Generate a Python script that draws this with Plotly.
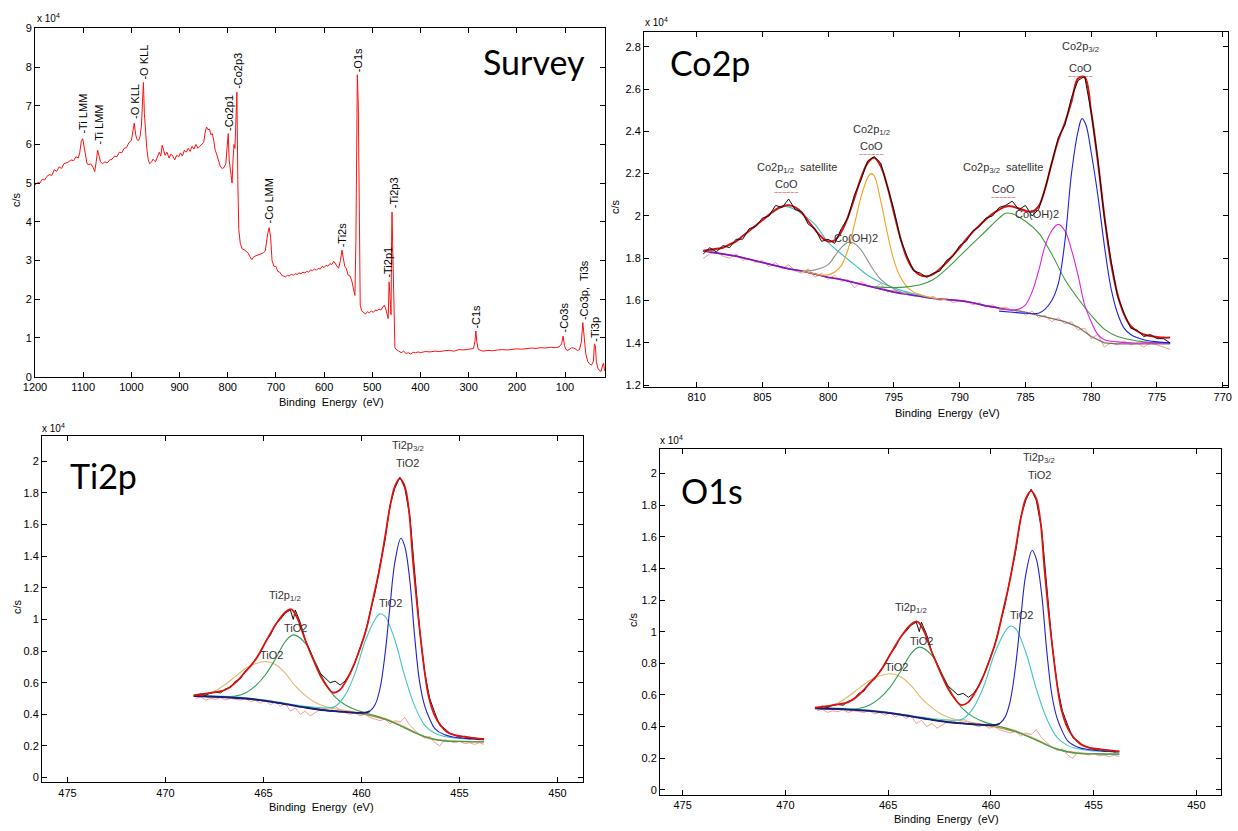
import plotly.graph_objects as go

W, H = 1238, 831

# ---------------- Survey data (counts in units of 1e4 c/s) ----------------
surv_be = [1200, 1195, 1190, 1185, 1180, 1175, 1170, 1165, 1160, 1155, 1150, 1145, 1140, 1135, 1130,
           1125, 1120, 1115, 1110, 1107, 1104, 1101, 1098, 1095, 1092, 1088, 1084, 1080, 1076, 1073,
           1070, 1067, 1064, 1060, 1055, 1050, 1045, 1040, 1035, 1030, 1025, 1020, 1015, 1010, 1005,
           1000, 997, 994, 991, 988, 985, 982, 979, 977, 975, 973, 971, 968, 965, 962, 958, 955, 950,
           946, 942, 939, 936, 933, 930, 926, 922, 918, 914, 910, 906, 902, 898, 894, 890, 886, 882,
           878, 874, 870, 866, 862, 858, 854, 850, 847, 844, 841, 838, 835, 832, 829, 826, 823, 820,
           816, 812, 808, 804, 801, 799, 797, 794, 791, 789, 787, 785, 783, 781, 779, 777, 774, 770,
           766, 762, 758, 754, 750, 746, 742, 738, 734, 730, 726, 722, 720, 717, 714, 711, 708, 704,
           700, 696, 692, 688, 684, 680, 676, 672, 668, 664, 660, 656, 652, 648, 644, 640, 636, 632,
           628, 624, 620, 616, 612, 608, 604, 600, 596, 592, 588, 584, 580, 577, 574, 570, 566, 563,
           560, 557, 554, 550, 546, 542, 538, 536, 534, 532, 531, 529, 527, 525, 522, 518, 514, 510,
           506, 502, 498, 494, 490, 486, 482, 478, 475, 472, 469, 467, 465, 463, 461, 460, 459, 457,
           455, 453, 450, 445, 440, 435, 430, 425, 420, 415, 410, 405, 400, 390, 380, 370, 360, 350,
           340, 330, 320, 310, 300, 295, 290, 287, 285, 283, 280, 275, 270, 260, 250, 240, 230, 220,
           210, 200, 190, 180, 170, 160, 150, 140, 130, 120, 112, 107, 104, 101, 98, 94, 90, 86, 82,
           78, 74, 70, 66, 63, 60, 57, 53, 49, 45, 41, 39, 37, 35, 32, 28, 25, 22, 20, 18]
surv_cps = [4.95, 5.02, 5.00, 5.10, 5.08, 5.18, 5.22, 5.20, 5.35, 5.30, 5.42, 5.38, 5.50, 5.52, 5.55,
            5.60, 5.58, 5.68, 5.65, 5.80, 6.08, 6.15, 5.95, 5.70, 5.50, 5.48, 5.50, 5.42, 5.30, 5.55,
            5.85, 5.70, 5.55, 5.50, 5.55, 5.52, 5.60, 5.62, 5.70, 5.68, 5.80, 5.78, 5.90, 5.92, 6.05,
            6.10, 6.30, 6.55, 6.25, 6.12, 6.10, 6.20, 6.50, 7.20, 7.60, 6.80, 6.30, 5.90, 5.60, 5.50,
            5.55, 5.62, 5.55, 5.70, 5.80, 5.70, 5.98, 5.85, 5.72, 5.80, 5.65, 5.75, 5.70, 5.60, 5.72,
            5.68, 5.78, 5.70, 5.85, 5.80, 5.90, 5.82, 5.95, 5.88, 6.00, 5.90, 5.95, 6.00, 6.05, 6.30,
            6.45, 6.38, 6.40, 6.25, 6.28, 6.10, 5.85, 5.75, 5.60, 5.45, 5.38, 5.40, 5.50, 5.90, 6.28,
            5.60, 5.20, 5.00, 5.60, 6.00, 5.90, 6.50, 7.35, 5.00, 3.80, 3.45, 3.30, 3.28, 3.25, 3.20,
            3.10, 3.02, 3.10, 3.12, 3.15, 3.18, 3.20, 3.20, 3.25, 3.50, 3.70, 3.85, 3.60, 3.00, 2.85,
            2.85, 2.72, 2.70, 2.62, 2.60, 2.58, 2.62, 2.60, 2.65, 2.62, 2.66, 2.64, 2.68, 2.66, 2.70,
            2.68, 2.72, 2.70, 2.76, 2.74, 2.78, 2.75, 2.80, 2.78, 2.85, 2.82, 2.88, 2.85, 2.92, 2.90,
            2.98, 2.92, 2.85, 2.80, 3.00, 3.27, 3.05, 2.85, 2.80, 2.62, 2.60, 2.45, 2.20, 2.10, 3.50,
            6.50, 7.80, 7.00, 3.50, 1.85, 1.70, 1.65, 1.62, 1.68, 1.65, 1.70, 1.66, 1.72, 1.70, 1.75,
            1.72, 1.80, 1.85, 1.75, 1.60, 1.50, 2.45, 1.90, 1.60, 3.50, 4.25, 3.00, 1.20, 0.75, 0.70,
            0.65, 0.62, 0.66, 0.60, 0.62, 0.58, 0.63, 0.62, 0.64, 0.62, 0.65, 0.64, 0.66, 0.65, 0.67,
            0.68, 0.66, 0.70, 0.69, 0.71, 0.72, 0.73, 0.90, 1.18, 0.90, 0.70, 0.68, 0.66, 0.68, 0.67,
            0.69, 0.70, 0.69, 0.71, 0.72, 0.71, 0.73, 0.74, 0.73, 0.75, 0.74, 0.76, 0.75, 0.77, 0.85,
            1.05, 0.80, 0.70, 0.68, 0.72, 0.75, 0.74, 0.72, 0.68, 0.70, 0.90, 1.40, 1.00, 0.60, 0.40,
            0.33, 0.30, 0.40, 0.85, 0.80, 0.40, 0.22, 0.15, 0.14, 0.30, 0.35, 0.15]

surv_lbl_text = ["-Ti LMM", "-Ti LMM", "-O KLL", "-O KLL", "-Co2p1", "-Co2p3", "-Co LMM", "-Ti2s",
                 "-O1s", "-Ti2p1", "-Ti2p3", "-C1s", "-Co3s", "-Co3p,  Ti3s", "-Ti3p"]
surv_lbl_be = [1101, 1067, 994, 973, 797, 779, 714, 561, 529, 467, 456, 284, 103, 62, 37]
surv_lbl_y = [6.22, 5.95, 6.6, 7.62, 6.3, 7.38, 3.9, 3.3, 7.82, 2.5, 4.3, 1.2, 1.08, 1.42, 0.85]

# ---------------- Co2p data ----------------
co_grid = [809.5, 809, 808.5, 808, 807.5, 807, 806.5, 806, 805.5, 805, 804.5, 804, 803.5, 803,
           802.5, 802, 801.5, 801, 800.5, 800, 799.5, 799, 798.5, 798, 797.5, 797, 796.5, 796,
           795.5, 795, 794.5, 794, 793.5, 793, 792.5, 792, 791.5, 791, 790.5, 790, 789.5, 789,
           788.5, 788, 787.5, 787, 786.5, 786, 785.5, 785, 784.5, 784, 783.5, 783, 782.5, 782,
           781.5, 781, 780.5, 780, 779.5, 779, 778.5, 778, 777.5, 777, 776.5, 776, 775.5, 775,
           774.5, 774]
co_raw = [1.82, 1.85, 1.83, 1.86, 1.85, 1.89, 1.89, 1.94, 1.95, 1.99, 2.00, 2.05, 2.04, 2.08,
          2.03, 2.02, 1.96, 1.94, 1.88, 1.89, 1.87, 1.94, 1.99, 2.10, 2.17, 2.26, 2.28, 2.25,
          2.14, 2.03, 1.89, 1.81, 1.74, 1.73, 1.71, 1.73, 1.74, 1.79, 1.81, 1.86, 1.88, 1.93,
          1.95, 1.99, 2.00, 2.04, 2.05, 2.07, 2.03, 2.05, 2.00, 2.03, 2.13, 2.25, 2.37, 2.43,
          2.56, 2.64, 2.66, 2.49, 2.27, 1.99, 1.79, 1.62, 1.54, 1.47, 1.46, 1.43, 1.44, 1.42,
          1.42, 1.40]
co_env = [1.835, 1.84, 1.845, 1.85, 1.865, 1.88, 1.905, 1.93, 1.955, 1.98, 2.005, 2.03, 2.045, 2.05,
          2.04, 2.015, 1.975, 1.935, 1.90, 1.88, 1.885, 1.925, 1.995, 2.085, 2.18, 2.25, 2.275, 2.235,
          2.14, 2.015, 1.895, 1.80, 1.745, 1.72, 1.715, 1.725, 1.75, 1.78, 1.815, 1.85, 1.89, 1.925,
          1.955, 1.985, 2.01, 2.03, 2.045, 2.045, 2.035, 2.025, 2.02, 2.045, 2.13, 2.25, 2.36, 2.44,
          2.54, 2.65, 2.655, 2.49, 2.26, 2.00, 1.78, 1.63, 1.535, 1.48, 1.455, 1.44, 1.433, 1.428,
          1.425, 1.425]
co_resid = [1.80, 1.82, 1.83, 1.81, 1.80, 1.82, 1.79, 1.80, 1.78, 1.79, 1.76, 1.78, 1.75, 1.77,
            1.74, 1.73, 1.75, 1.71, 1.73, 1.70, 1.72, 1.69, 1.70, 1.66, 1.69, 1.67, 1.66, 1.68,
            1.64, 1.65, 1.63, 1.64, 1.62, 1.63, 1.61, 1.62, 1.60, 1.61, 1.59, 1.60, 1.60, 1.58,
            1.59, 1.57, 1.58, 1.56, 1.57, 1.55, 1.56, 1.53, 1.55, 1.52, 1.53, 1.50, 1.52, 1.49,
            1.50, 1.46, 1.47, 1.42, 1.44, 1.38, 1.40, 1.39, 1.41, 1.39, 1.40, 1.38, 1.40, 1.39,
            1.38, 1.37]
co_bg_be = [809.5, 809, 808, 807, 806, 805, 804, 803, 802, 801, 800, 799, 798, 797, 796, 795, 794,
            793, 792, 791, 790, 789, 788, 787, 786, 785, 784, 783, 782, 781, 780, 779, 778, 777,
            776, 775, 774]
co_bg = [1.835, 1.83, 1.82, 1.81, 1.795, 1.78, 1.765, 1.75, 1.74, 1.725, 1.71, 1.70, 1.685, 1.67,
         1.655, 1.64, 1.63, 1.62, 1.61, 1.605, 1.60, 1.59, 1.575, 1.565, 1.555, 1.545, 1.53, 1.515,
         1.50, 1.475, 1.43, 1.40, 1.395, 1.395, 1.395, 1.395, 1.395]
co_sat12_be = [809.5, 809, 808, 807, 806, 805, 804, 803.3, 802.5, 802, 801, 800, 799, 798, 797, 796,
               795, 794, 793, 792]
co_sat12 = [1.835, 1.835, 1.85, 1.88, 1.93, 1.98, 2.025, 2.045, 2.03, 2.01, 1.96, 1.875, 1.82, 1.77,
            1.72, 1.685, 1.66, 1.64, 1.625, 1.612]
co_oh12_be = [802, 801, 800, 799.5, 799, 798.5, 798, 797.5, 797, 796.5, 796, 795, 794]
co_oh12 = [1.74, 1.745, 1.77, 1.81, 1.85, 1.875, 1.87, 1.84, 1.79, 1.74, 1.70, 1.655, 1.63]
co_p12_be = [802, 801, 800.5, 800, 799.5, 799, 798.5, 798, 797.5, 797, 796.75, 796.5, 796, 795.5, 795,
             794.5, 794, 793.5, 793, 792, 791]
co_p12 = [1.74, 1.727, 1.72, 1.722, 1.735, 1.765, 1.84, 1.96, 2.09, 2.18, 2.20, 2.19, 2.07, 1.92,
          1.79, 1.71, 1.665, 1.64, 1.628, 1.612, 1.605]
co_sat32_be = [796.5, 795, 794, 793, 792, 791, 790, 789, 788, 787, 786.5, 786, 785, 784, 783, 782,
               781, 780, 779, 778, 777, 776, 775, 774]
co_sat32 = [1.665, 1.662, 1.665, 1.675, 1.70, 1.75, 1.81, 1.87, 1.93, 1.99, 2.013, 2.01, 1.975, 1.92,
            1.82, 1.70, 1.61, 1.53, 1.465, 1.43, 1.415, 1.405, 1.40, 1.40]
co_oh32_be = [787, 786, 785.5, 785, 784.5, 784, 783.5, 783, 782.5, 782, 781.5, 781, 780.5, 780, 779.5,
              779, 778, 777, 776, 775, 774]
co_oh32 = [1.56, 1.555, 1.56, 1.58, 1.64, 1.74, 1.86, 1.93, 1.96, 1.93, 1.84, 1.72, 1.58, 1.50, 1.44,
           1.415, 1.405, 1.40, 1.40, 1.40, 1.40]
co_p32_be = [787, 786, 785, 784, 783.5, 783, 782.5, 782, 781.5, 781, 780.7, 780.4, 780, 779.5, 779,
             778.5, 778, 777.5, 777, 776, 775, 774]
co_p32 = [1.55, 1.545, 1.54, 1.54, 1.56, 1.60, 1.68, 1.88, 2.20, 2.40, 2.46, 2.43, 2.30, 2.10, 1.86,
          1.66, 1.54, 1.47, 1.44, 1.415, 1.405, 1.40]

co_lbl_text = ["Co2p<sub>1/2</sub>  satellite", "CoO", "Co2p<sub>1/2</sub>", "CoO",
               "Co2p<sub>3/2</sub>  satellite", "CoO", "Co2p<sub>3/2</sub>", "CoO", "Co(OH)2", "Co(OH)2"]
co_lbl_be = [802.4, 803.2, 796.7, 796.7, 786.7, 786.7, 780.8, 780.8, 797.9, 784.1]
co_lbl_y = [2.227, 2.15, 2.404, 2.332, 2.227, 2.127, 2.80, 2.70, 1.897, 2.007]

# ---------------- Ti2p data (also shown in the O1s panel) ----------------
ti_raw_be = [468.46, 468.21, 467.95, 467.70, 467.44, 467.19, 466.94, 466.68, 466.43, 466.17, 465.92,
             465.66, 465.41, 465.16, 464.90, 464.65, 464.39, 464.14, 463.89, 463.63, 463.48, 463.38,
             463.12, 462.87, 462.62, 462.36, 462.11, 461.85, 461.60, 461.35, 461.09, 460.84, 460.58,
             460.33, 460.08, 459.82, 459.57, 459.31, 459.06, 458.80, 458.55, 458.30, 458.04, 457.79,
             457.53, 457.28, 457.03, 456.77, 456.52, 456.26, 456.01, 455.76, 455.50, 455.25, 454.99,
             454.74, 454.49, 454.23, 453.98, 453.75]
ti_raw = [0.515, 0.53, 0.52, 0.535, 0.54, 0.535, 0.56, 0.57, 0.61, 0.625, 0.675, 0.70, 0.75, 0.79,
          0.86, 0.90, 0.97, 1.00, 1.04, 1.06, 1.00, 1.06, 0.98, 0.87, 0.80, 0.72, 0.66, 0.63, 0.60,
          0.61, 0.585, 0.61, 0.66, 0.73, 0.82, 0.91, 1.04, 1.17, 1.34, 1.50, 1.72, 1.83, 1.90, 1.83,
          1.65, 1.28, 0.93, 0.66, 0.50, 0.41, 0.33, 0.31, 0.28, 0.27, 0.255, 0.26, 0.245, 0.25,
          0.24, 0.245]
ti_env_be = [468.56, 467.95, 467.44, 466.94, 466.43, 465.92, 465.41, 464.90, 464.39, 463.89, 463.58,
             463.28, 462.87, 462.46, 462.06, 461.75, 461.45, 461.14, 460.84, 460.43, 460.02, 459.72,
             459.41, 459.11, 458.80, 458.55, 458.30, 458.04, 457.79, 457.58, 457.38, 457.08, 456.77,
             456.57, 456.26, 455.96, 455.65, 455.25, 454.74, 454.23, 453.75]
ti_env = [0.52, 0.53, 0.54, 0.555, 0.60, 0.67, 0.745, 0.855, 0.965, 1.045, 1.064, 1.01, 0.87, 0.745,
          0.635, 0.575, 0.537, 0.55, 0.60, 0.70, 0.835, 0.955, 1.13, 1.30, 1.52, 1.71, 1.84, 1.89,
          1.84, 1.69, 1.38, 0.99, 0.66, 0.51, 0.39, 0.33, 0.29, 0.268, 0.258, 0.25, 0.243]
ti_resid = [0.50, 0.51, 0.49, 0.50, 0.495, 0.505, 0.49, 0.50, 0.495, 0.49, 0.50, 0.48, 0.49, 0.47,
            0.49, 0.46, 0.48, 0.45, 0.47, 0.42, 0.43, 0.44, 0.40, 0.42, 0.39, 0.41, 0.43, 0.44, 0.42,
            0.45, 0.43, 0.41, 0.40, 0.41, 0.39, 0.40, 0.38, 0.37, 0.36, 0.37, 0.34, 0.36, 0.35, 0.38,
            0.33, 0.30, 0.27, 0.25, 0.26, 0.22, 0.20, 0.24, 0.23, 0.22, 0.23, 0.215, 0.22, 0.21,
            0.22, 0.21]
ti_bg_be = [468.56, 467.95, 466.94, 465.92, 464.90, 463.89, 462.87, 461.85, 460.84, 459.82, 459.31,
            458.80, 458.30, 457.79, 457.28, 456.77, 456.26, 455.76, 454.74, 453.75]
ti_bg = [0.515, 0.512, 0.507, 0.50, 0.487, 0.466, 0.445, 0.428, 0.415, 0.40, 0.385, 0.368, 0.345,
         0.315, 0.285, 0.258, 0.24, 0.232, 0.228, 0.226]
ti_a_be = [468.56, 467.95, 467.44, 466.94, 466.43, 465.92, 465.41, 464.90, 464.39, 463.89, 463.38,
           462.87, 462.36, 461.85, 461.35, 460.84, 460.33, 459.82, 458.80, 457.79, 456.77, 455.76,
           454.74, 453.75]
ti_a = [0.52, 0.53, 0.55, 0.59, 0.64, 0.69, 0.72, 0.734, 0.715, 0.66, 0.58, 0.52, 0.475, 0.45, 0.435,
        0.425, 0.415, 0.405, 0.375, 0.32, 0.26, 0.235, 0.228, 0.226]
ti_b_be = [468.56, 466.94, 466.43, 465.92, 465.41, 464.90, 464.39, 463.89, 463.48, 462.87, 462.36,
           461.85, 461.35, 460.84, 460.33, 459.82, 458.80, 457.79, 456.77, 455.76, 454.74, 453.75]
ti_b = [0.515, 0.51, 0.515, 0.535, 0.58, 0.65, 0.75, 0.86, 0.902, 0.85, 0.73, 0.60, 0.51, 0.46, 0.43,
        0.41, 0.37, 0.315, 0.258, 0.232, 0.228, 0.226]
ti_c_be = [468.56, 465.92, 463.89, 462.87, 462.36, 461.85, 461.35, 460.84, 460.33, 459.82, 459.31,
           459.06, 458.80, 458.30, 457.79, 457.28, 456.77, 456.26, 455.76, 455.25, 454.74, 453.75]
ti_c = [0.52, 0.505, 0.47, 0.45, 0.445, 0.44, 0.45, 0.52, 0.66, 0.86, 1.00, 1.035, 1.02, 0.87, 0.64,
        0.45, 0.33, 0.28, 0.26, 0.25, 0.245, 0.24]
ti_d_be = [468.56, 466.94, 465.92, 464.90, 463.89, 462.87, 461.85, 460.84, 459.82, 459.57, 459.31,
           459.06, 458.80, 458.55, 458.30, 457.99, 457.79, 457.53, 457.28, 457.03, 456.77, 456.52,
           456.26, 455.76, 455.25, 454.74, 453.75]
ti_d = [0.515, 0.508, 0.50, 0.485, 0.465, 0.443, 0.425, 0.415, 0.41, 0.42, 0.46, 0.56, 0.78, 1.08,
        1.36, 1.513, 1.46, 1.24, 0.88, 0.60, 0.45, 0.37, 0.31, 0.27, 0.255, 0.248, 0.24]

ti_lbl_text = ["Ti2p<sub>3/2</sub>", "TiO2", "TiO2", "Ti2p<sub>1/2</sub>", "TiO2", "TiO2"]
ti_lbl_be = [457.64, 457.64, 458.50, 463.89, 463.38, 464.60]
ti_lbl_y = [2.097, 1.99, 1.106, 1.15, 0.944, 0.776]

panel_names = ["Survey", "Co2p", "Ti2p", "O1s"]

# ---------------- figure ----------------
fig = go.Figure()


def line(x, y, color, width, xa, ya, shape="linear", dash=None):
    fig.add_trace(go.Scatter(x=x, y=y, mode="lines", xaxis=xa, yaxis=ya, hoverinfo="skip",
                             showlegend=False,
                             line=dict(color=color, width=width, shape=shape, dash=dash)))


# survey
line(surv_be, surv_cps, "#ff1010", 1, "x", "y")

# Co2p
line(co_grid, co_resid, "#f29090", 0.9, "x2", "y2")
line(co_bg_be, co_bg, "#7d7060", 1.3, "x2", "y2")
line(co_bg_be[:24], co_bg[:24], "#8a10c8", 1.6, "x2", "y2")
line(co_sat12_be, co_sat12, "#3cc0c8", 1.1, "x2", "y2", "spline")
line(co_oh12_be, co_oh12, "#909090", 1.1, "x2", "y2", "spline")
line(co_p12_be, co_p12, "#f0a020", 1.1, "x2", "y2", "spline")
line(co_sat32_be, co_sat32, "#3c9a3c", 1.1, "x2", "y2", "spline")
line(co_oh32_be, co_oh32, "#e020e0", 1.1, "x2", "y2", "spline")
line(co_p32_be, co_p32, "#2020e0", 1.1, "x2", "y2", "spline")
line(co_grid, co_env, "#e01010", 2.0, "x2", "y2", "spline")
line(co_grid, co_raw, "#111111", 1.0, "x2", "y2")

# Ti2p and O1s panels (same spectrum)
for xa, ya in (("x3", "y3"), ("x4", "y4")):
    line(ti_raw_be, ti_resid, "#f29090", 0.9, xa, ya)
    line(ti_bg_be, ti_bg, "#a08a30", 1.4, xa, ya, "spline")
    line(ti_a_be, ti_a, "#e8b468", 1.1, xa, ya, "spline")
    line(ti_b_be, ti_b, "#30a050", 1.1, xa, ya, "spline")
    line(ti_c_be, ti_c, "#40c8c0", 1.1, xa, ya, "spline")
    line(ti_d_be, ti_d, "#2020d0", 1.1, xa, ya, "spline")
    line(ti_d_be[:10], ti_d[:10], "#1c1c78", 1.8, xa, ya, "spline")
    line(ti_raw_be, ti_raw, "#111111", 1.0, xa, ya)
    line(ti_env_be, ti_env, "#e01010", 1.8, xa, ya, "spline")

TICKFONT = dict(family="Liberation Sans, Arial", size=11, color="black")


def axis(domain, rng, anchor, **kw):
    d = dict(domain=domain, range=rng, anchor=anchor, showline=True, linecolor="black", linewidth=1,
             mirror="ticks", ticks="inside", ticklen=5, tickcolor="black", showgrid=False,
             zeroline=False, tickfont=TICKFONT, automargin=False)
    d.update(kw)
    return d


def dx(px):
    return px / W


def dy(py):
    return 1 - py / H


fig.update_layout(
    template="none",
    width=W, height=H, margin=dict(l=0, r=0, t=0, b=0, pad=0), autosize=False,
    paper_bgcolor="white", plot_bgcolor="white", showlegend=False,
    font=dict(family="Liberation Sans, Arial", color="black"),
    xaxis=axis([dx(35), dx(605)], [1200, 17], "y", tickmode="array",
               tickvals=[1200, 1100, 1000, 900, 800, 700, 600, 500, 400, 300, 200, 100]),
    yaxis=axis([dy(376.7), dy(28.3)], [0, 9], "x", tick0=0, dtick=1),
    xaxis2=axis([dx(644), dx(1228)], [814.0, 769.6], "y2", tickmode="array",
                tickvals=[810, 805, 800, 795, 790, 785, 780, 775, 770]),
    yaxis2=axis([dy(386.7), dy(32.3)], [1.193, 2.868], "x2", tick0=1.2, dtick=0.2),
    xaxis3=axis([dx(42), dx(583)], [476.3, 448.7], "y3", tickmode="array",
                tickvals=[475, 470, 465, 460, 455, 450]),
    yaxis3=axis([dy(782.3), dy(436)], [-0.03, 2.16], "x3", tick0=0, dtick=0.2),
    xaxis4=axis([dx(660), dx(1221)], [476.1, 448.8], "y4", tickmode="array",
                tickvals=[475, 470, 465, 460, 455, 450]),
    yaxis4=axis([dy(795), dy(449)], [-0.032, 2.154], "x4", tick0=0, dtick=0.2),
)

ann = []
SMALL = dict(family="Liberation Sans, Arial", size=11, color="black")
LBL = dict(family="Liberation Sans, Arial", size=11, color="#333333")

# survey peak labels
for t, bx, by in zip(surv_lbl_text, surv_lbl_be, surv_lbl_y):
    ann.append(dict(x=bx, y=by, xref="x", yref="y", text=t, textangle=-90, showarrow=False,
                    xanchor="center", yanchor="bottom", font=SMALL))

for t, bx, by in zip(co_lbl_text, co_lbl_be, co_lbl_y):
    ann.append(dict(x=bx, y=by, xref="x2", yref="y2", text=t, showarrow=False,
                    xanchor="center", yanchor="middle", font=LBL))
    if t == "CoO":
        ann.append(dict(x=bx, y=by - 0.04, xref="x2", yref="y2", text="~~~~~~", showarrow=False,
                        xanchor="center", yanchor="middle",
                        font=dict(family="Liberation Sans", size=7, color="#e03030")))

for xa, ya in (("x3", "y3"), ("x4", "y4")):
    for t, bx, by in zip(ti_lbl_text, ti_lbl_be, ti_lbl_y):
        ann.append(dict(x=bx, y=by, xref=xa, yref=ya, text=t, showarrow=False,
                        xanchor="center", yanchor="middle", font=LBL))

# panel titles
TITLE = dict(family="Lato, Open Sans", size=34, color="black")
ann.append(dict(x=dx(534), y=dy(62), xref="paper", yref="paper", text=panel_names[0],
                showarrow=False, xanchor="center", yanchor="middle", font=TITLE))
ann.append(dict(x=dx(668), y=dy(63), xref="paper", yref="paper", text=panel_names[1],
                showarrow=False, xanchor="left", yanchor="middle", font=TITLE))
ann.append(dict(x=dx(68), y=dy(475), xref="paper", yref="paper", text=panel_names[2],
                showarrow=False, xanchor="left", yanchor="middle", font=TITLE))
ann.append(dict(x=dx(679), y=dy(490), xref="paper", yref="paper", text=panel_names[3],
                showarrow=False, xanchor="left", yanchor="middle", font=TITLE))

# exponent markers, axis titles
for px, py in ((35, 18), (643, 22), (40, 428), (658, 440)):
    ann.append(dict(x=dx(px), y=dy(py), xref="paper", yref="paper", text="x 10<sup>4</sup>",
                    showarrow=False, xanchor="left", yanchor="middle",
                    font=dict(family="Liberation Sans, Arial", size=10, color="black")))
for px, py in ((331, 402), (947, 413), (321, 807), (946, 819)):
    ann.append(dict(x=dx(px), y=dy(py), xref="paper", yref="paper", text="Binding  Energy  (eV)",
                    showarrow=False, xanchor="center", yanchor="middle", font=SMALL))
for px, py in ((16, 200), (615, 207), (17, 607), (633, 620)):
    ann.append(dict(x=dx(px), y=dy(py), xref="paper", yref="paper", text="c/s", textangle=-90,
                    showarrow=False, xanchor="center", yanchor="middle", font=SMALL))

fig.update_layout(annotations=ann)
fig.write_html("out.html")
